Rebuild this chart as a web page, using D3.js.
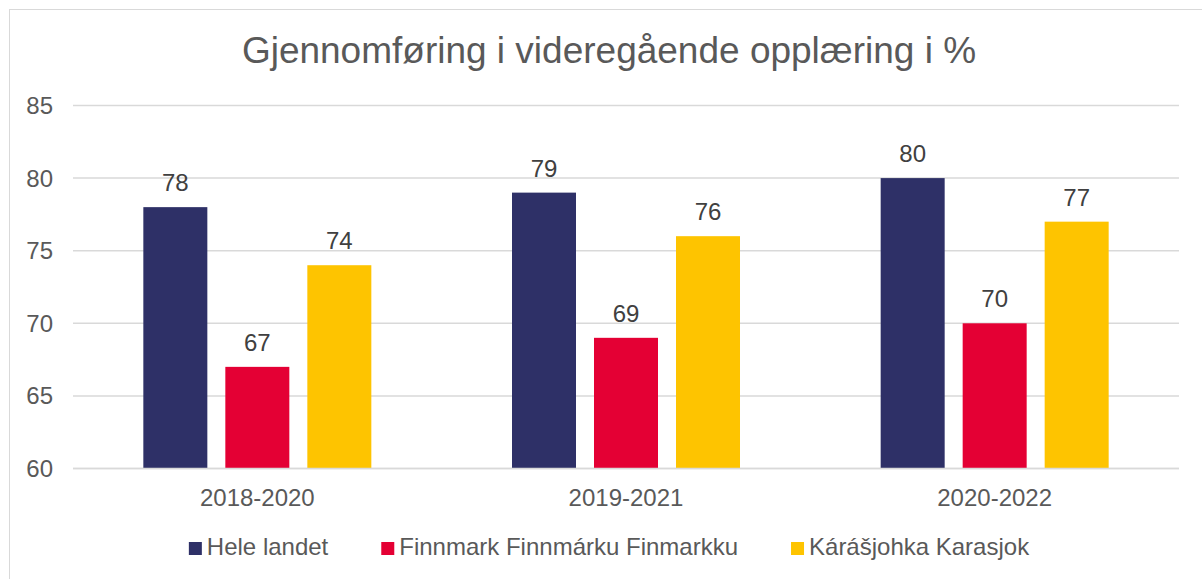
<!DOCTYPE html>
<html>
<head>
<meta charset="utf-8">
<script src="https://cdn.jsdelivr.net/npm/d3@7"></script>
<style>
  body { margin: 0; background: #ffffff; }
  text { font-family: "Liberation Sans", Arial, sans-serif; fill: #595959; }
</style>
</head>
<body>
<script>
// data
var categories = ['2018-2020', '2019-2021', '2020-2022'];
var seriesNames = ['Hele landet', 'Finnmark Finnmárku Finmarkku', 'Kárášjohka Karasjok'];
var heleLandet = [78, 79, 80];
var finnmark = [67, 69, 70];
var karasjok = [74, 76, 77];
var yTicks = [60, 65, 70, 75, 80, 85];
var title = 'Gjennomføring i videregående opplæring i %';

var seriesValues = [heleLandet, finnmark, karasjok];
var colors = ['#2E3067', '#E40034', '#FEC400'];

var svgContainer = d3.select("body").append("svg")
    .attr("width", 1202)
    .attr("height", 579);

// chart frame (right edge falls outside the picture)
svgContainer.append('rect')
    .attr('x', 9.5)
    .attr('y', 9.5)
    .attr('width', 1200)
    .attr('height', 600)
    .attr('fill', '#ffffff')
    .attr('stroke', '#D9D9D9')
    .attr('stroke-width', 1);

var plot = { left: 73, right: 1179, top: 105.5, bottom: 468.5 };

var y = d3.scaleLinear()
    .domain([60, 85])
    .range([plot.bottom, plot.top]);

var x0 = d3.scaleBand()
    .domain(categories)
    .range([plot.left, plot.right])
    .padding(0);

// bars are 64 wide with 18 between, group is 228 wide
var x1 = d3.scaleBand()
    .domain(seriesNames)
    .range([-114, 114])
    .paddingInner(0.2195)
    .paddingOuter(0);

// gridlines
svgContainer.append('g')
    .selectAll('line')
    .data(yTicks)
    .enter().append('line')
    .attr('x1', plot.left)
    .attr('x2', plot.right)
    .attr('y1', function(d) { return y(d); })
    .attr('y2', function(d) { return y(d); })
    .attr('stroke', '#D9D9D9')
    .attr('stroke-width', 1.5);

// y tick labels
svgContainer.append('g')
    .selectAll('text')
    .data(yTicks)
    .enter().append('text')
    .attr('x', 53)
    .attr('y', function(d) { return y(d); })
    .attr('dy', '.35em')
    .attr('text-anchor', 'end')
    .attr('font-size', 24)
    .text(function(d) { return d; });

// bars + labels
seriesNames.forEach(function(name, i) {
    var g = svgContainer.append('g');
    g.selectAll('rect')
        .data(seriesValues[i])
        .enter().append('rect')
        .attr('x', function(d, j) { return x0(categories[j]) + x0.bandwidth() / 2 + x1(name); })
        .attr('y', function(d) { return y(d); })
        .attr('width', x1.bandwidth())
        .attr('height', function(d) { return plot.bottom - y(d); })
        .attr('fill', colors[i]);

    g.selectAll('text')
        .data(seriesValues[i])
        .enter().append('text')
        .attr('x', function(d, j) { return x0(categories[j]) + x0.bandwidth() / 2 + x1(name) + x1.bandwidth() / 2; })
        .attr('y', function(d) { return y(d) - 16; })
        .attr('text-anchor', 'middle')
        .attr('font-size', 24)
        .style('fill', '#404040')
        .text(function(d) { return d; });
});

// x axis line
svgContainer.append('line')
    .attr('x1', plot.left)
    .attr('x2', plot.right)
    .attr('y1', plot.bottom)
    .attr('y2', plot.bottom)
    .attr('stroke', '#D9D9D9')
    .attr('stroke-width', 1.5);

// category labels
svgContainer.append('g')
    .selectAll('text')
    .data(categories)
    .enter().append('text')
    .attr('x', function(d) { return x0(d) + x0.bandwidth() / 2; })
    .attr('y', 505.5)
    .attr('text-anchor', 'middle')
    .attr('font-size', 24)
    .text(function(d) { return d; });

// title
svgContainer.append('text')
    .attr('x', 609)
    .attr('y', 63)
    .attr('text-anchor', 'middle')
    .attr('font-size', 37)
    .text(title);

// legend, laid out from measured text widths and centred
var legend = svgContainer.append('g');
var lx = 0;
seriesNames.forEach(function(name, i) {
    legend.append('rect')
        .attr('x', lx)
        .attr('y', 542)
        .attr('width', 13)
        .attr('height', 13)
        .attr('fill', colors[i]);
    var t = legend.append('text')
        .attr('x', lx + 18)
        .attr('y', 555)
        .attr('font-size', 24)
        .text(name);
    lx += 18 + t.node().getComputedTextLength() + 53;
});
var legendWidth = lx - 53;
legend.attr('transform', 'translate(' + (609 - legendWidth / 2) + ',0)');
</script>
</body>
</html>
